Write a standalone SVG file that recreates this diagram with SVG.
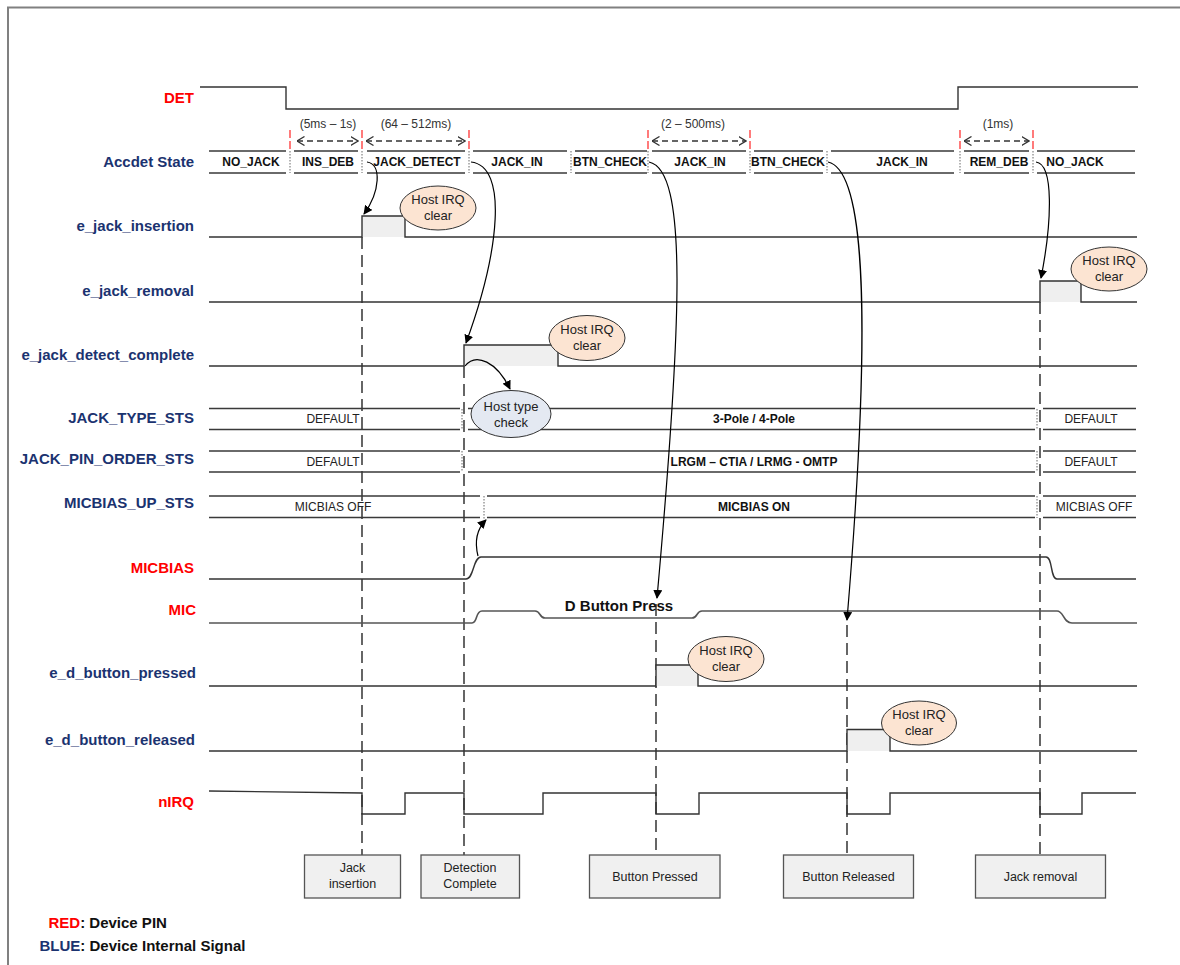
<svg xmlns="http://www.w3.org/2000/svg" width="1180" height="965" viewBox="0 0 1180 965">
<defs>
<style>
text{font-family:"Liberation Sans",Arial,sans-serif}
.lbl{font-weight:bold;font-size:15px;text-anchor:end}
.blue{fill:#1B3370}
.red{fill:#FF0000}
.blk{fill:#111}
.sig{fill:none;stroke:#333;stroke-width:1.4}
.band{stroke:#3a3a3a;stroke-width:1.3}
.st{font-weight:bold;font-size:12px;text-anchor:middle;fill:#111}
.val{font-size:12px;text-anchor:middle;fill:#222}
.valb{font-size:12px;font-weight:bold;text-anchor:middle;fill:#111}
.tm{font-size:12px;text-anchor:middle;fill:#333}
.tarr{stroke:#333;stroke-width:1.3;stroke-dasharray:6 4;fill:none}
.rd{stroke:#FF5A5A;stroke-width:1.6;stroke-dasharray:8 3}
.sep{stroke:#666;stroke-width:1;stroke-dasharray:1.5 1.5}
.vd{stroke:#000;stroke-width:1.2;stroke-dasharray:12 6}
.pf{fill:#EFEFEF;stroke:none}
.irq{fill:#FCE4D2;stroke:#333;stroke-width:1}
.htc{fill:#E4E9F2;stroke:#333;stroke-width:1}
.et{font-size:13px;text-anchor:middle;fill:#222}
.box{fill:#F0F0F0;stroke:#555;stroke-width:1.3}
.bt{font-size:12.5px;text-anchor:middle;fill:#222}
.cn{fill:none;stroke:#000;stroke-width:1.2}
.leg{font-weight:bold;font-size:15px}
</style>
<marker id="ah" viewBox="0 0 10 10" refX="9" refY="5" markerWidth="9" markerHeight="9" markerUnits="userSpaceOnUse" orient="auto">
<path d="M0,0 L10,5 L0,10 Z" fill="#000"/>
</marker>
<marker id="chev" viewBox="0 0 8 10" refX="7.5" refY="5" markerWidth="8" markerHeight="10" markerUnits="userSpaceOnUse" orient="auto-start-reverse">
<path d="M0,0.5 L7.5,5 L0,9.5" fill="none" stroke="#333" stroke-width="1.3"/>
</marker>
</defs>

<rect width="1180" height="965" fill="#fff"/>
<path d="M8,965 V7.5 H1180" fill="none" stroke="#808080" stroke-width="2"/>

<!-- DET -->
<g id="det">
<text class="lbl red" x="194" y="103">DET</text>
<path class="sig" d="M200,87 H286 V109 H958 V87 H1138"/>
</g>

<!-- Accdet State -->
<g id="accdet-state">
<text class="lbl blue" x="194" y="167">Accdet State</text>
<g class="band">
<path d="M209,151 H286 M209,173 H286"/>
<path d="M294,151 H358 M294,173 H358"/>
<path d="M367,151 H465 M367,173 H465"/>
<path d="M473,151 H567 M473,173 H567"/>
<path d="M575,151 H647 M575,173 H647"/>
<path d="M652,151 H746 M652,173 H746"/>
<path d="M754,151 H823 M754,173 H823"/>
<path d="M831,151 H954 M831,173 H954"/>
<path d="M964,151 H1029 M964,173 H1029"/>
<path d="M1037,151 H1135 M1037,173 H1135"/>
</g>
<g class="sep">
<path d="M290,151 V173 M362,151 V173 M469,151 V173 M571,151 V173 M648,151 V173 M750,151 V173 M827,151 V173 M960,151 V173 M1033,151 V173"/>
</g>
<text class="st" x="251" y="166">NO_JACK</text>
<text class="st" x="328" y="166">INS_DEB</text>
<text class="st" x="417" y="166">JACK_DETECT</text>
<text class="st" x="517" y="166">JACK_IN</text>
<text class="st" x="610" y="166">BTN_CHECK</text>
<text class="st" x="700" y="166">JACK_IN</text>
<text class="st" x="788" y="166">BTN_CHECK</text>
<text class="st" x="902" y="166">JACK_IN</text>
<text class="st" x="999" y="166">REM_DEB</text>
<text class="st" x="1075" y="166">NO_JACK</text>
</g>

<!-- timing annotations -->
<g id="timing">
<g class="rd">
<path d="M290,130 V151 M362,130 V151 M469,130 V151 M648,130 V151 M750,130 V151 M960,130 V151 M1033,130 V151"/>
</g>
<path class="tarr" d="M297,141 H358" marker-start="url(#chev)" marker-end="url(#chev)"/>
<path class="tarr" d="M366,141 H465" marker-start="url(#chev)" marker-end="url(#chev)"/>
<path class="tarr" d="M652,141 H746" marker-start="url(#chev)" marker-end="url(#chev)"/>
<path class="tarr" d="M964,141 H1029" marker-start="url(#chev)" marker-end="url(#chev)"/>
<text class="tm" x="328" y="128">(5ms – 1s)</text>
<text class="tm" x="416" y="128">(64 – 512ms)</text>
<text class="tm" x="693" y="128">(2 – 500ms)</text>
<text class="tm" x="998" y="128">(1ms)</text>
</g>

<!-- vertical dashed event lines -->
<g id="event-lines" class="vd">
<path d="M362,237 V855"/>
<path d="M464,366 V855"/>
<path d="M656,604 V855"/>
<path d="M847,625 V855"/>
<path d="M1040,302 V855"/>
</g>

<!-- e_jack_insertion -->
<g id="e-jack-insertion">
<text class="lbl blue" x="194" y="231">e_jack_insertion</text>
<rect class="pf" x="362" y="216" width="43" height="21"/>
<path class="sig" d="M209,237 H362 V216 H405 V237 H1137"/>
</g>

<!-- e_jack_removal -->
<g id="e-jack-removal">
<text class="lbl blue" x="194" y="296">e_jack_removal</text>
<rect class="pf" x="1040" y="281" width="41" height="21"/>
<path class="sig" d="M209,302 H1040 V281 H1081 V302 H1137"/>
</g>

<!-- e_jack_detect_complete -->
<g id="e-jack-detect-complete">
<text class="lbl blue" x="194" y="360">e_jack_detect_complete</text>
<rect class="pf" x="464" y="345" width="94" height="21"/>
<path class="sig" d="M209,366 H464 V345 H558 V366 H1137"/>
</g>

<!-- JACK_TYPE_STS -->
<g id="jack-type-sts">
<text class="lbl blue" x="194" y="423">JACK_TYPE_STS</text>
<g class="band">
<path d="M209,408.5 H460 M209,429.5 H460"/>
<path d="M468,408.5 H1035 M468,429.5 H1035"/>
<path d="M1043,408.5 H1136 M1043,429.5 H1136"/>
</g>
<path class="sep" d="M462,409 V430 M1037,409 V430"/>
<text class="val" x="333" y="422.5">DEFAULT</text>
<text class="valb" x="754" y="422.5">3-Pole / 4-Pole</text>
<text class="val" x="1091" y="422.5">DEFAULT</text>
</g>

<!-- JACK_PIN_ORDER_STS -->
<g id="jack-pin-order-sts">
<text class="lbl blue" x="194" y="464">JACK_PIN_ORDER_STS</text>
<g class="band">
<path d="M209,451 H460 M209,472 H460"/>
<path d="M468,451 H1035 M468,472 H1035"/>
<path d="M1043,451 H1136 M1043,472 H1136"/>
</g>
<path class="sep" d="M462,451 V472 M1037,451 V472"/>
<text class="val" x="333" y="465.5">DEFAULT</text>
<text class="valb" x="754" y="465.5">LRGM – CTIA / LRMG - OMTP</text>
<text class="val" x="1091" y="465.5">DEFAULT</text>
</g>

<!-- MICBIAS_UP_STS -->
<g id="micbias-up-sts">
<text class="lbl blue" x="194" y="508">MICBIAS_UP_STS</text>
<g class="band">
<path d="M209,496 H480 M209,517.5 H480"/>
<path d="M487,496 H1035 M487,517.5 H1035"/>
<path d="M1043,496 H1136 M1043,517.5 H1136"/>
</g>
<path class="sep" d="M484,496 V520 M1037,496 V518"/>
<text class="val" x="333" y="511">MICBIAS OFF</text>
<text class="valb" x="754" y="511">MICBIAS ON</text>
<text class="val" x="1094" y="511">MICBIAS OFF</text>
</g>

<!-- MICBIAS -->
<g id="micbias">
<text class="lbl red" x="194" y="573">MICBIAS</text>
<path class="sig" d="M209,579 H466 C474,579 473,557 481,557 H1046 C1053,557 1050,579 1057,579 H1136"/>
</g>

<!-- MIC -->
<g id="mic">
<text class="lbl red" x="196" y="615">MIC</text>
<path class="sig" d="M209,623 H472 C478,623 475,611 482,611 H535 C541,611 539,618 545,618 H692 C698,618 696,611 702,611 H1057 C1064,611 1063,623 1072,623 H1137" style="stroke:#555;stroke-width:1.6"/>
<text x="619" y="611" style="font-weight:bold;font-size:15px;text-anchor:middle;fill:#111">D Button Press</text>
</g>

<!-- e_d_button_pressed -->
<g id="e-d-button-pressed">
<text class="lbl blue" x="196" y="678">e_d_button_pressed</text>
<rect class="pf" x="656" y="665" width="42" height="21"/>
<path class="sig" d="M209,686 H656 V665 H698 V686 H1137"/>
</g>

<!-- e_d_button_released -->
<g id="e-d-button-released">
<text class="lbl blue" x="195" y="745">e_d_button_released</text>
<rect class="pf" x="847" y="729.5" width="43" height="21.5"/>
<path class="sig" d="M209,751 H847 V729.5 H890 V751 H1137"/>
</g>

<!-- nIRQ -->
<g id="nirq">
<text class="lbl red" x="194" y="807">nIRQ</text>
<path class="sig" d="M209,791 L362,793 V814 H405 V793 H464 V814 H543 V793 H656 V814 H699 V793 H847 V814 H890 V793 H1040 V814 H1082 V793 H1136"/>
</g>

<!-- Host IRQ clear bubbles -->
<g id="irq-clear-1"><ellipse class="irq" cx="438" cy="208" rx="38" ry="22"/><text class="et" x="438" y="204">Host IRQ</text><text class="et" x="438" y="220">clear</text></g>
<g id="irq-clear-2"><ellipse class="irq" cx="1109" cy="269" rx="38" ry="22"/><text class="et" x="1109" y="265">Host IRQ</text><text class="et" x="1109" y="281">clear</text></g>
<g id="irq-clear-3"><ellipse class="irq" cx="587" cy="338" rx="38" ry="22.5"/><text class="et" x="587" y="334">Host IRQ</text><text class="et" x="587" y="350">clear</text></g>
<g id="irq-clear-4"><ellipse class="irq" cx="726" cy="659" rx="38" ry="22.5"/><text class="et" x="726" y="655">Host IRQ</text><text class="et" x="726" y="671">clear</text></g>
<g id="irq-clear-5"><ellipse class="irq" cx="919" cy="723" rx="37.5" ry="22"/><text class="et" x="919" y="719">Host IRQ</text><text class="et" x="919" y="735">clear</text></g>
<g id="host-type-check"><ellipse class="htc" cx="511" cy="414" rx="40" ry="23.5"/><text class="et" x="511" y="411">Host type</text><text class="et" x="511" y="427">check</text></g>

<!-- connectors -->
<g id="connectors" class="cn">
<path d="M367,162 C382,164 380,192 364,214" marker-end="url(#ah)"/>
<path d="M471,162 C508,166 500,250 466,343" marker-end="url(#ah)"/>
<path d="M649,162 C688,170 682,320 657,598" marker-end="url(#ah)"/>
<path d="M828,162 C866,170 872,320 847,620" marker-end="url(#ah)"/>
<path d="M1036,162 C1054,164 1052,222 1041,278" marker-end="url(#ah)"/>
<path d="M465,366 C476,352 497,362 510,389" marker-end="url(#ah)"/>
<path d="M478,556 C474,540 478,528 486,520" marker-end="url(#ah)"/>
</g>

<!-- event boxes -->
<g id="box-jack-insertion"><rect class="box" x="304.5" y="855" width="96" height="43"/><text class="bt" x="352.5" y="872">Jack</text><text class="bt" x="352.5" y="888">insertion</text></g>
<g id="box-detection-complete"><rect class="box" x="421" y="855" width="98.5" height="43"/><text class="bt" x="470" y="872">Detection</text><text class="bt" x="470" y="888">Complete</text></g>
<g id="box-button-pressed"><rect class="box" x="589.5" y="855" width="130.5" height="43"/><text class="bt" x="655" y="880.5">Button Pressed</text></g>
<g id="box-button-released"><rect class="box" x="783.5" y="855" width="130" height="43"/><text class="bt" x="848.5" y="880.5">Button Released</text></g>
<g id="box-jack-removal"><rect class="box" x="975.5" y="855" width="130" height="43"/><text class="bt" x="1040.5" y="880.5">Jack removal</text></g>

<!-- legend -->
<g id="legend">
<text class="leg" x="48.5" y="928"><tspan class="red">RED</tspan><tspan class="blk">: Device PIN</tspan></text>
<text class="leg" x="39.5" y="951"><tspan class="blue">BLUE</tspan><tspan class="blk">: Device Internal Signal</tspan></text>
</g>
</svg>
